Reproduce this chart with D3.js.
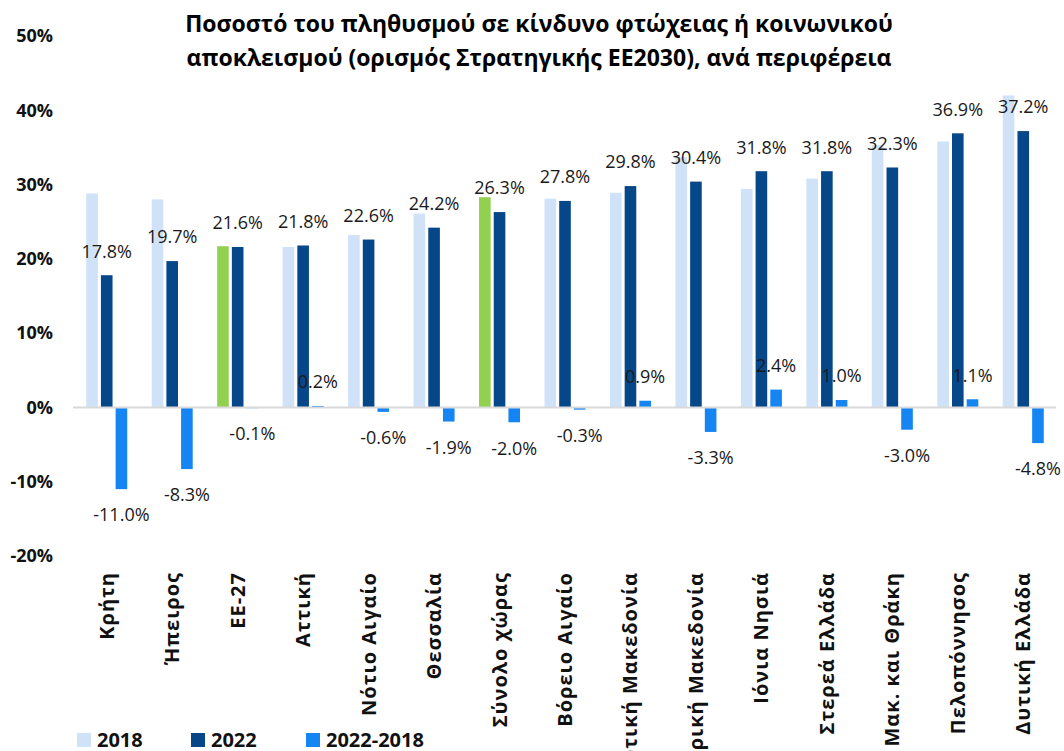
<!DOCTYPE html>
<html>
<head>
<meta charset="utf-8">
<script src="https://cdn.jsdelivr.net/npm/d3@7"></script>
<style>
  body { margin: 0; background: #fff; }
  svg { display: block; font-family: "Open Sans", sans-serif; }
</style>
</head>
<body>
<script>
// Data
const categories = ["Κρήτη", "Ήπειρος", "ΕΕ-27", "Αττική", "Νότιο Αιγαίο", "Θεσσαλία", "Σύνολο χώρας",
  "Βόρειο Αιγαίο", "Δυτική Μακεδονία", "Κεντρική Μακεδονία", "Ιόνια Νησιά", "Στερεά Ελλάδα",
  "Αν. Μακ. και Θράκη", "Πελοπόννησος", "Δυτική Ελλάδα"];
const values2018 = [28.8, 28.0, 21.7, 21.6, 23.2, 26.1, 28.3, 28.1, 28.9, 33.7, 29.4, 30.8, 35.3, 35.8, 42.0];
const values2022 = [17.8, 19.7, 21.6, 21.8, 22.6, 24.2, 26.3, 27.8, 29.8, 30.4, 31.8, 31.8, 32.3, 36.9, 37.2];
const valuesDiff = [-11.0, -8.3, -0.1, 0.2, -0.6, -1.9, -2.0, -0.3, 0.9, -3.3, 2.4, 1.0, -3.0, 1.1, -4.8];
const highlighted = ["ΕΕ-27", "Σύνολο χώρας"];
const seriesNames = ["2018", "2022", "2022-2018"];
const yTicks = [-20, -10, 0, 10, 20, 30, 40, 50];
const titleLines = ["Ποσοστό του πληθυσμού σε κίνδυνο φτώχειας ή κοινωνικού",
  "αποκλεισμού (ορισμός Στρατηγικής ΕΕ2030), ανά περιφέρεια"];

const w = 1064;
const h = 751;

const colors = { "2018": "#cfe2f8", "2022": "#064789", "2022-2018": "#1485f2" };
const green = "#92d050";

const svg = d3.select("body")
  .append("svg")
  .attr("width", w)
  .attr("height", h);

// Scales
const x0 = d3.scaleBand()
  .domain(categories)
  .range([74, 1056])
  .padding(0);

const bw = x0.bandwidth();
const x1 = d3.scaleBand()
  .domain(seriesNames)
  .range([bw / 2 - 20.5, bw / 2 + 20.5])
  .paddingInner(0.21);

const y = d3.scaleLinear()
  .domain([-20, 50])
  .range([556, 36]);

// Title
svg.append("text")
  .attr("x", 539)
  .attr("text-anchor", "middle")
  .style("font-weight", "bold")
  .style("font-size", "23px")
  .attr("fill", "#000")
  .selectAll("tspan")
  .data(titleLines)
  .enter()
  .append("tspan")
  .attr("x", 539)
  .attr("y", (d, i) => 32 + i * 34)
  .text(d => d);

// Y axis (labels only)
const yAxis = d3.axisLeft(y)
  .tickValues(yTicks)
  .tickSize(0)
  .tickPadding(0)
  .tickFormat(d => d + "%");

svg.append("g")
  .attr("transform", "translate(53,0)")
  .call(yAxis)
  .call(g => g.select(".domain").remove())
  .selectAll("text")
  .style("font-family", "Open Sans, sans-serif")
  .style("font-size", "18px")
  .style("font-weight", "bold")
  .attr("fill", "#111");

// Rows of bars
const rows = categories.map((c, i) => ({
  cat: c,
  vals: [
    { key: "2018", v: values2018[i] },
    { key: "2022", v: values2022[i] },
    { key: "2022-2018", v: valuesDiff[i] }
  ]
}));

const groups = svg.selectAll(".group")
  .data(rows)
  .enter()
  .append("g")
  .attr("class", "group")
  .attr("transform", d => `translate(${x0(d.cat)},0)`);

groups.selectAll("rect")
  .data(d => d.vals.map(v => ({ ...v, cat: d.cat })))
  .enter()
  .append("rect")
  .attr("x", d => x1(d.key))
  .attr("width", x1.bandwidth())
  .attr("y", d => y(Math.max(0, d.v)))
  .attr("height", d => Math.abs(y(d.v) - y(0)))
  .attr("fill", d => (d.key === "2018" && highlighted.includes(d.cat)) ? green : colors[d.key]);

// Zero line
svg.append("line")
  .attr("x1", 73)
  .attr("x2", 1056)
  .attr("y1", y(0))
  .attr("y2", y(0))
  .attr("stroke", "#d9d9d9")
  .attr("stroke-width", 2);

// Data labels for 2022 and the difference
groups.selectAll(".lbl")
  .data(d => d.vals.filter(v => v.key !== "2018"))
  .enter()
  .append("text")
  .attr("class", "lbl")
  .attr("x", d => x1(d.key) + x1.bandwidth() / 2)
  .attr("y", d => d.v >= 0 ? y(d.v) - 24 : y(d.v) + 26)
  .attr("dy", "0.35em")
  .attr("text-anchor", "middle")
  .style("font-size", "18px")
  .attr("fill", "#1a1a1a")
  .text(d => d.v.toFixed(1) + "%");

// Category labels, rotated
svg.append("g")
  .selectAll("text")
  .data(categories)
  .enter()
  .append("text")
  .attr("transform", d => `translate(${x0(d) + bw / 2},572) rotate(-90)`)
  .attr("dy", "0.35em")
  .attr("text-anchor", "end")
  .style("font-size", "20px")
  .style("font-weight", "bold")
  .style("letter-spacing", "1px")
  .attr("fill", "#111")
  .text(d => d);

// Legend
const legendX = [77, 191, 306];
const legend = svg.append("g")
  .selectAll("g")
  .data(seriesNames)
  .enter()
  .append("g")
  .attr("transform", (d, i) => `translate(${legendX[i]},733)`);

legend.append("rect")
  .attr("width", 14)
  .attr("height", 14)
  .attr("fill", d => colors[d]);

legend.append("text")
  .attr("x", 20)
  .attr("y", 14)
  .style("font-size", "20px")
  .style("font-weight", "bold")
  .attr("fill", "#111")
  .text(d => d);
</script>
</body>
</html>
